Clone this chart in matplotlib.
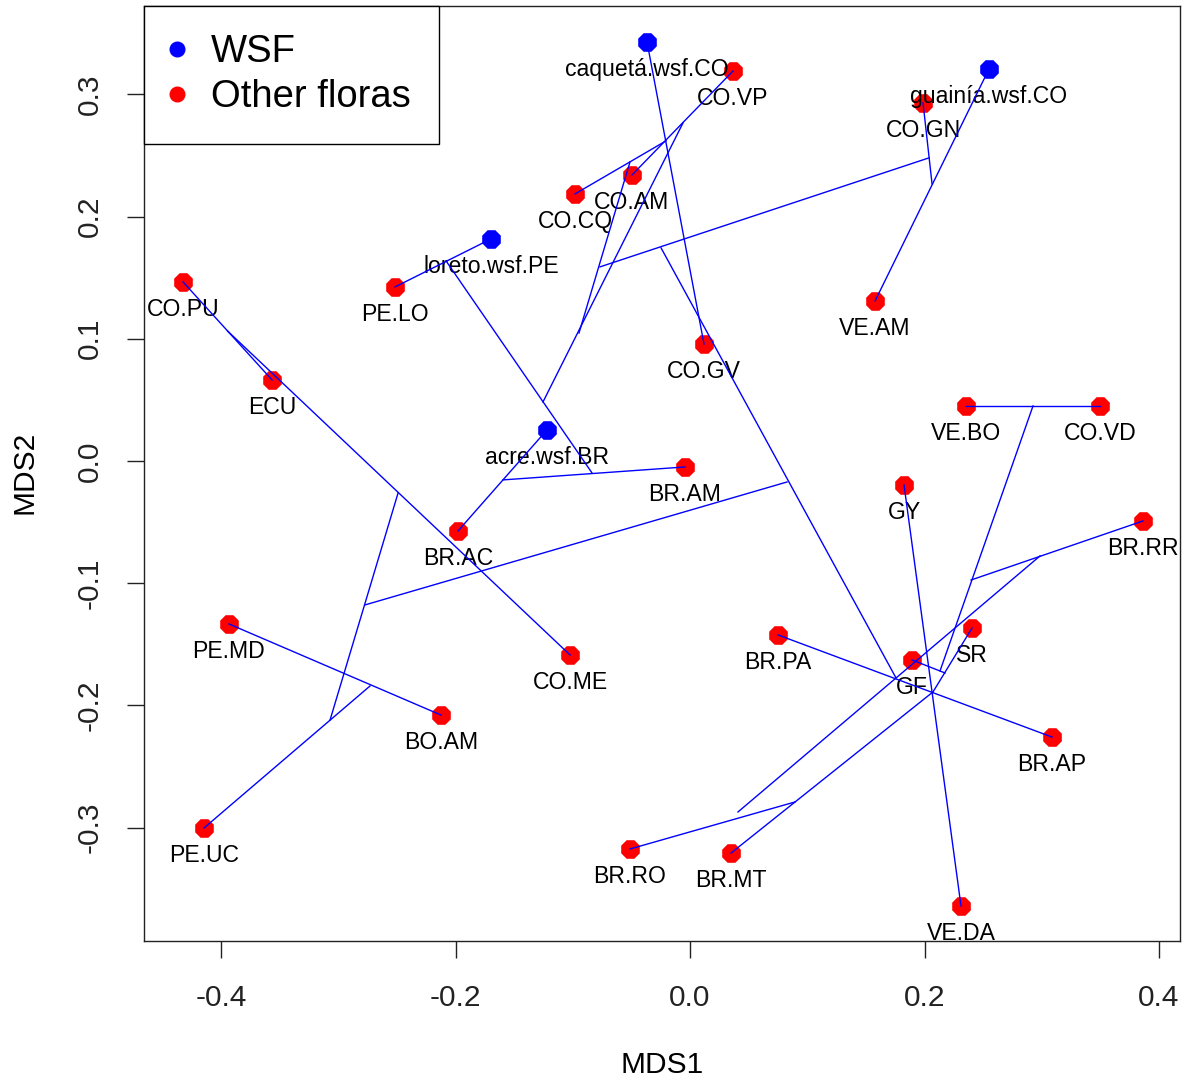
import matplotlib
matplotlib.use("Agg")
import matplotlib.pyplot as plt
from matplotlib.lines import Line2D

plt.rcParams['font.family'] = ['Liberation Sans', 'DejaVu Sans']

# MDS scores of the floras
wsf_names = ["caquetá.wsf.CO", "guainía.wsf.CO", "loreto.wsf.PE", "acre.wsf.BR"]
wsf_x = [-0.0367, 0.2550, -0.1697, -0.1220]
wsf_y = [0.3429, 0.3208, 0.1817, 0.0254]

flora_names = ["CO.VP", "CO.GN", "CO.AM", "CO.CQ", "PE.LO", "CO.PU", "ECU", "VE.AM",
               "CO.GV", "VE.BO", "CO.VD", "BR.AM", "GY", "BR.RR", "BR.AC", "PE.MD",
               "SR", "BR.PA", "CO.ME", "GF", "BO.AM", "BR.AP", "PE.UC", "BR.RO",
               "BR.MT", "VE.DA"]
flora_x = [0.0367, 0.1987, -0.0495, -0.0981, -0.2516, -0.4324, -0.3565, 0.1578,
           0.0119, 0.2354, 0.3497, -0.0043, 0.1825, 0.3863, -0.1979, -0.3932,
           0.2405, 0.0751, -0.1023, 0.1893, -0.2124, 0.3087, -0.4145, -0.0512,
           0.0350, 0.2311]
flora_y = [0.3191, 0.2930, 0.2340, 0.2185, 0.1424, 0.1465, 0.0663, 0.1309,
           0.0957, 0.0450, 0.0450, -0.0049, -0.0196, -0.0491, -0.0573, -0.1334,
           -0.1367, -0.1424, -0.1588, -0.1628, -0.2079, -0.2259, -0.3003, -0.3175,
           -0.3208, -0.3642]

# internal nodes of the cluster tree drawn over the ordination
node_names = ["P1", "P2", "M1", "M2", "M3", "R", "U", "Gend", "V", "G1", "G0", "K",
              "H", "J", "B2", "A3", "L1", "A1", "A2", "W1", "E1", "W2", "S1", "S2",
              "C1", "C2", "O1"]
node_x = [-0.3945, -0.2490, -0.2729, -0.3070, -0.2772, 0.0827, -0.0247, 0.1757,
          -0.0768, 0.2038, 0.2064, -0.0512, -0.0205, -0.0060, -0.1254, -0.0947,
          -0.2081, -0.1595, -0.0836, 0.2925, 0.2397, 0.2132, 0.2175, 0.2072,
          0.2985, 0.0409, 0.0896]
node_y = [0.1064, -0.0262, -0.1841, -0.2119, -0.1178, -0.0172, 0.1743, -0.1776,
          0.1588, 0.2480, 0.2267, 0.2447, 0.2619, 0.2766, 0.0483, 0.1047,
          0.1637, -0.0155, -0.0098, 0.0450, -0.0974, -0.1718, -0.1735, -0.1890,
          -0.0777, -0.2872, -0.2790]

edges = [("CO.PU", "ECU"), ("P1", "CO.ME"), ("PE.MD", "BO.AM"), ("PE.UC", "M1"),
         ("M2", "P2"), ("M3", "R"), ("U", "Gend"), ("caquetá.wsf.CO", "CO.GV"),
         ("CO.VP", "CO.AM"), ("CO.CQ", "H"), ("K", "A3"), ("J", "B2"), ("V", "G1"),
         ("CO.GN", "G0"), ("guainía.wsf.CO", "VE.AM"), ("PE.LO", "loreto.wsf.PE"),
         ("L1", "A2"), ("BR.AC", "acre.wsf.BR"), ("A1", "BR.AM"), ("VE.BO", "CO.VD"),
         ("W1", "W2"), ("BR.RR", "E1"), ("C1", "C2"), ("BR.RO", "O1"),
         ("BR.MT", "S2"), ("SR", "S2"), ("GF", "S1"), ("BR.PA", "BR.AP"),
         ("GY", "VE.DA")]

pos = {}
for names, xs, ys in [(wsf_names, wsf_x, wsf_y), (flora_names, flora_x, flora_y),
                      (node_names, node_x, node_y)]:
    for n, x, y in zip(names, xs, ys):
        pos[n] = (x, y)

fig = plt.figure(figsize=(11.88, 10.82), dpi=100)
ax = fig.add_axes([0.1212, 0.1303, 0.8721, 0.8642])

ax.scatter(flora_x, flora_y, s=210, marker='8', color='#FF0000', zorder=2, linewidths=0)
ax.scatter(wsf_x, wsf_y, s=210, marker='8', color='#0000FF', zorder=2, linewidths=0)

for names, xs, ys in [(wsf_names, wsf_x, wsf_y), (flora_names, flora_x, flora_y)]:
    for n, x, y in zip(names, xs, ys):
        ax.annotate(n, (x, y), xytext=(0, -24.5), textcoords='offset points',
                    ha='center', va='baseline', fontsize=16.6, color='black', zorder=3)

for a, b in edges:
    ax.plot([pos[a][0], pos[b][0]], [pos[a][1], pos[b][1]], color='#0000FF',
            lw=1.0, zorder=4)

ax.set_xlim(-0.4657, 0.4179)
ax.set_ylim(-0.3928, 0.3723)
ax.set_xticks([-0.4, -0.2, 0.0, 0.2, 0.4])
ax.set_yticks([-0.3, -0.2, -0.1, 0.0, 0.1, 0.2, 0.3])
ax.set_xticklabels(["-0.4", "-0.2", "0.0", "0.2", "0.4"])
ax.set_yticklabels(["-0.3", "-0.2", "-0.1", "0.0", "0.1", "0.2", "0.3"],
                   rotation=90, va='center')
ax.tick_params(direction='out', length=12, width=1, labelsize=21.5, colors='#222222')
ax.tick_params(axis='x', pad=19)
ax.tick_params(axis='y', pad=17)
for s in ax.spines.values():
    s.set_color('#222222')
    s.set_linewidth(1.0)

fig.text(0.557, 0.003, "MDS1", ha='center', va='bottom', fontsize=21.5)
fig.text(0.021, 0.563, "MDS2", ha='center', va='center', rotation=90, fontsize=21.5)

handles = [Line2D([], [], marker='o', ls='', color='#0000FF', markersize=10.5),
           Line2D([], [], marker='o', ls='', color='#FF0000', markersize=10.5)]
leg = ax.legend(handles, ["WSF", "Other floras"], loc='upper left',
                bbox_to_anchor=(0, 1), borderaxespad=0, fontsize=27.5, fancybox=False,
                framealpha=1, edgecolor='black', handletextpad=0.76, labelspacing=0.24,
                borderpad=0.74, handlelength=0.26)
leg.get_frame().set_linewidth(1.0)

fig.savefig("out.png", dpi=100)
